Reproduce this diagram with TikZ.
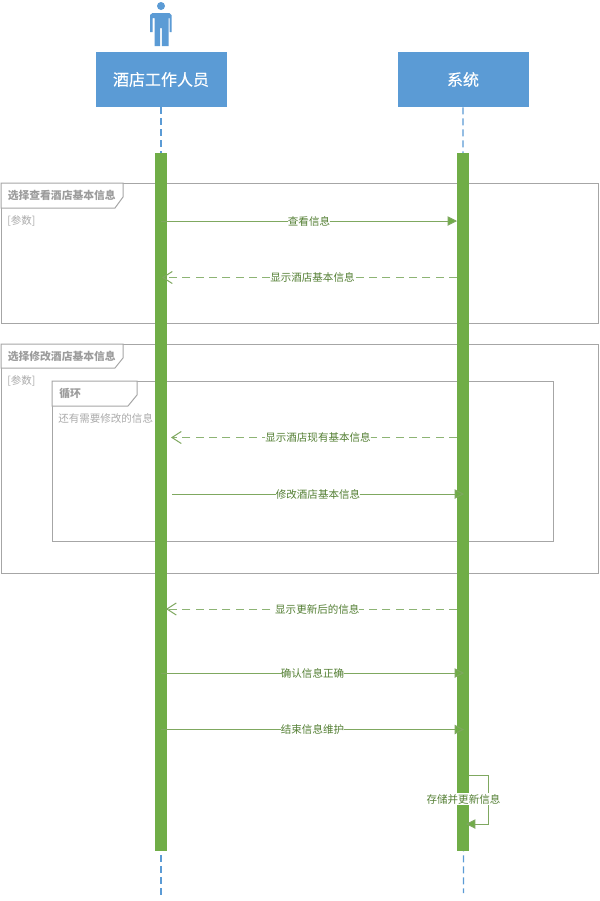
\documentclass[tikz,border=0pt]{standalone}
\usepackage{fontspec}
\newfontfamily\cjk{Noto Sans CJK SC}
\newfontfamily\cjkb[FakeBold=0.35]{Noto Sans CJK SC}
\usetikzlibrary{arrows.meta}
\definecolor{headblue}{HTML}{5B9BD5}
\definecolor{lifeblue}{HTML}{5B9BD5}
\definecolor{bargreen}{HTML}{70AD47}
\definecolor{msggreen}{HTML}{7FA860}
\definecolor{dashgreen}{HTML}{8DB474}
\definecolor{txtgreen}{HTML}{547F34}
\definecolor{framegray}{HTML}{A6A6A6}
\definecolor{tagtext}{HTML}{9C9C9C}
\definecolor{guardtext}{HTML}{ABABAB}
\tikzset{
  x=0.75pt,y=-0.75pt,
  lane/.style={draw=none,fill=headblue,text=white,minimum width=98.25pt,minimum height=41.25pt,inner sep=0pt,font=\cjkb\fontsize{12pt}{14pt}\selectfont},
  lifeline/.style={draw=lifeblue,line width=0.85pt,dash pattern=on 5.25pt off 3pt},
  bar/.style={fill=bargreen,draw=none},
  framebox/.style={draw=framegray,line width=0.75pt,fill=none},
  tagbox/.style={draw=framegray,line width=0.75pt,fill=white},
  tagtxt/.style={text=tagtext,font=\cjk\bfseries\fontsize{8.1pt}{10pt}\selectfont,inner sep=0pt,anchor=west},
  guardtxt/.style={text=guardtext,font=\cjk\fontsize{7.9pt}{10pt}\selectfont,inner sep=0pt,anchor=west},
  msg/.style={draw=msggreen,line width=0.75pt,-{Triangle[length=7pt,width=7pt,fill=bargreen]}},
  reply/.style={draw=dashgreen,line width=0.75pt,dash pattern=on 6pt off 4pt,-{Straight Barb[length=7pt,width=9pt,color=msggreen]}},
  lbl/.style={fill=white,fill opacity=0.9,text opacity=1,text=txtgreen,inner xsep=0pt,inner ysep=1pt,font=\cjk\fontsize{7.9pt}{10pt}\selectfont},
}
\begin{document}
\begin{tikzpicture}
\useasboundingbox (0,0) rectangle (600,901);
\fill[white] (0,0) rectangle (600,901);
% actor
\fill[headblue] (161,6) circle[radius=4];
\fill[headblue] (152.5,13) -- (169.5,13) -- (171.5,15) -- (171.5,32) -- (169.5,32) -- (169.5,18) -- (168.5,18) -- (168.5,46) -- (161.8,46) -- (161.8,28) -- (160.2,28) -- (160.2,46) -- (154.5,46) -- (154.5,18) -- (152.5,18) -- (152.5,32) -- (150,32) -- (150,15) -- cycle;
% heads
\node[lane] (staff) at (161,79.5) {酒店工作人员};
\node[lane] (sys) at (463,79.5) {系统};
% lifeline ends
\coordinate (staffend) at (161,897);
\coordinate (sysend) at (463.5,893);
\draw[lifeline] (staff.south) -- (staffend);
\draw[lifeline] (sys.south) -- (sysend);
% frames
\draw[framebox] (1,183) rectangle (598.5,323);
\draw[framebox] (1,344) rectangle (598.5,573);
\draw[framebox] (52,381) rectangle (553,541);
\draw[tagbox] (1,183) -- (123,183) -- (123,197) -- (115,208) -- (1,208) -- cycle;
\draw[tagbox] (1,344) -- (123,344) -- (123,358) -- (115,368) -- (1,368) -- cycle;
\draw[tagbox] (52,381) -- (137,381) -- (137,395) -- (128,406) -- (52,406) -- cycle;
\node[tagtxt] (t1) at (7.5,195) {选择查看酒店基本信息};
\node[tagtxt] (t2) at (7.5,356) {选择修改酒店基本信息};
\node[tagtxt] (t3) at (59,393) {循环};
\node[guardtxt] (g1) at (7,220.5) {[参数]};
\node[guardtxt] (g2) at (7,380.5) {[参数]};
\node[guardtxt] (g3) at (58,418) {还有需要修改的信息};
% activation bars
\node[bar,minimum width=9pt,minimum height=523.5pt,inner sep=0pt] (barA) at (161,502) {};
\node[bar,minimum width=9pt,minimum height=523.5pt,inner sep=0pt] (barB) at (463,502) {};
% message anchors
\coordinate (a1) at (161,221); \coordinate (b1) at (457,221);
\coordinate (a2) at (162,277.5); \coordinate (b2) at (457,277.5);
\coordinate (a3) at (171,437.5); \coordinate (b3) at (457,437.5);
\coordinate (a4) at (172,494); \coordinate (b4) at (464,494);
\coordinate (a5) at (166,609); \coordinate (b5) at (457,609);
\coordinate (a6) at (161,673); \coordinate (b6) at (464,673);
\coordinate (a7) at (161,729.5); \coordinate (b7) at (464,729.5);
\coordinate (s1) at (469,775); \coordinate (s2) at (488,775);
\coordinate (s3) at (488,824); \coordinate (s4) at (466,824);
% messages
\draw[msg] (a1) -- node[lbl] (m1) {查看信息} (b1);
\draw[reply] (b2) -- node[lbl,pos=0.49] (m2) {显示酒店基本信息} (a2);
\draw[reply] (b3) -- node[lbl,pos=0.486] (m3) {显示酒店现有基本信息} (a3);
\draw[msg] (a4) -- node[lbl] (m4) {修改酒店基本信息} (b4);
\draw[reply] (b5) -- node[lbl,pos=0.48] (m5) {显示更新后的信息} (a5);
\draw[msg] (a6) -- node[lbl] (m6) {确认信息正确} (b6);
\draw[msg] (a7) -- node[lbl] (m7) {结束信息维护} (b7);
\draw[msg] (s1) -- (s2) -- (s3) -- (s4);
\node[lbl,fill opacity=1] (m8) at (463.5,799) {存储并更新信息};
\end{tikzpicture}
\end{document}
